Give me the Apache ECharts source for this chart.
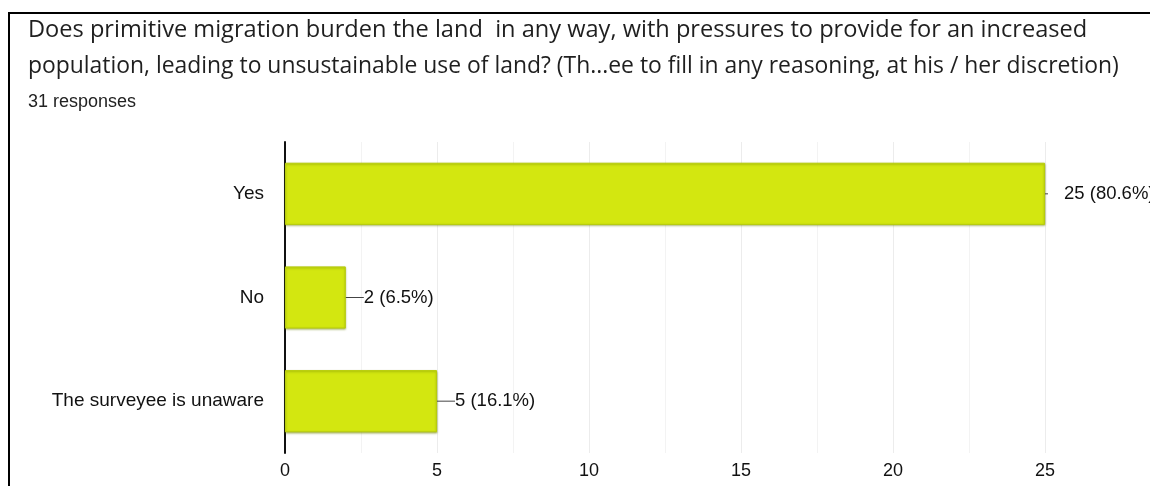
<!DOCTYPE html>
<html>
<head>
<meta charset="utf-8">
<script src="https://cdn.jsdelivr.net/npm/echarts@6/dist/echarts.min.js"></script>
<style>
  html, body { margin: 0; padding: 0; background: #fff; }
  #chart { width: 1150px; height: 486px; }
</style>
</head>
<body>
<div id="chart"></div>
<script>
// Survey question and response counts
const questionLines = [
  'Does primitive migration burden the land  in any way, with pressures to provide for an increased',
  'population, leading to unsustainable use of land? (Th...ee to fill in any reasoning, at his / her discretion)'
];
const responseNote = '31 responses';
const categories = ['Yes', 'No', 'The surveyee is unaware'];
const counts = [25, 2, 5];
const percents = ['80.6%', '6.5%', '16.1%'];
const axisMax = 25;
const axisStep = 5;

const chart = echarts.init(document.getElementById('chart'), null, { renderer: 'canvas' });

const seriesData = counts.map((v, i) => ({
  value: v,
  label: {
    formatter: (i === 0 ? '{tick|}{gap|}' : '{line|}') + v + ' (' + percents[i] + ')'
  }
}));

chart.setOption({
  animation: false,
  backgroundColor: '#ffffff',
  title: [
    {
      text: questionLines[0],
      left: 23, top: 13,
      textStyle: { fontFamily: 'Open Sans', fontSize: 23.6, fontWeight: 'normal', color: '#1f1f1f' }
    },
    {
      text: questionLines[1],
      left: 23, top: 50,
      textStyle: { fontFamily: 'Open Sans', fontSize: 22.9, fontWeight: 'normal', color: '#1f1f1f' }
    },
    {
      text: responseNote,
      left: 23, top: 88,
      textStyle: { fontFamily: 'Liberation Sans', fontSize: 18, fontWeight: 'normal', color: '#222' }
    }
  ],
  graphic: [
    {
      type: 'polyline', silent: true,
      shape: { points: [[9, 490], [9, 13], [1160, 13]] },
      style: { stroke: '#000', lineWidth: 2, fill: null }
    }
  ],
  grid: { left: 285, right: 105, top: 142, bottom: 33 },
  xAxis: {
    type: 'value', min: 0, max: axisMax, interval: axisStep,
    axisLine: { show: false },
    axisTick: { show: false },
    axisLabel: { color: '#111', fontFamily: 'Liberation Sans', fontSize: 18, margin: 9 },
    splitLine: { show: true, lineStyle: { color: '#ececec', width: 1 } },
    minorTick: { show: false, splitNumber: 2 },
    minorSplitLine: { show: true, lineStyle: { color: '#f3f3f3', width: 1 } }
  },
  yAxis: {
    type: 'category', data: categories, inverse: true,
    axisLine: { show: true, lineStyle: { color: '#111', width: 2 } },
    axisTick: { show: false },
    axisLabel: { color: '#111', fontFamily: 'Liberation Sans', fontSize: 19, margin: 21 }
  },
  series: [{
    type: 'bar',
    data: seriesData,
    barCategoryGap: '40%',
    itemStyle: {
      color: '#d3e710',
      borderColor: '#b7cc0c', borderWidth: 1,
      shadowColor: 'rgba(110,130,0,0.55)', shadowBlur: 2, shadowOffsetY: 1, shadowOffsetX: 0
    },
    label: {
      show: true, position: 'right', distance: 0,
      color: '#111', fontFamily: 'Liberation Sans', fontSize: 18.5,
      rich: {
        line: { width: 18, height: 1, backgroundColor: '#444' },
        tick: { width: 3, height: 1, backgroundColor: '#444' },
        gap: { width: 16, height: 1 }
      }
    }
  }]
});
</script>
</body>
</html>
